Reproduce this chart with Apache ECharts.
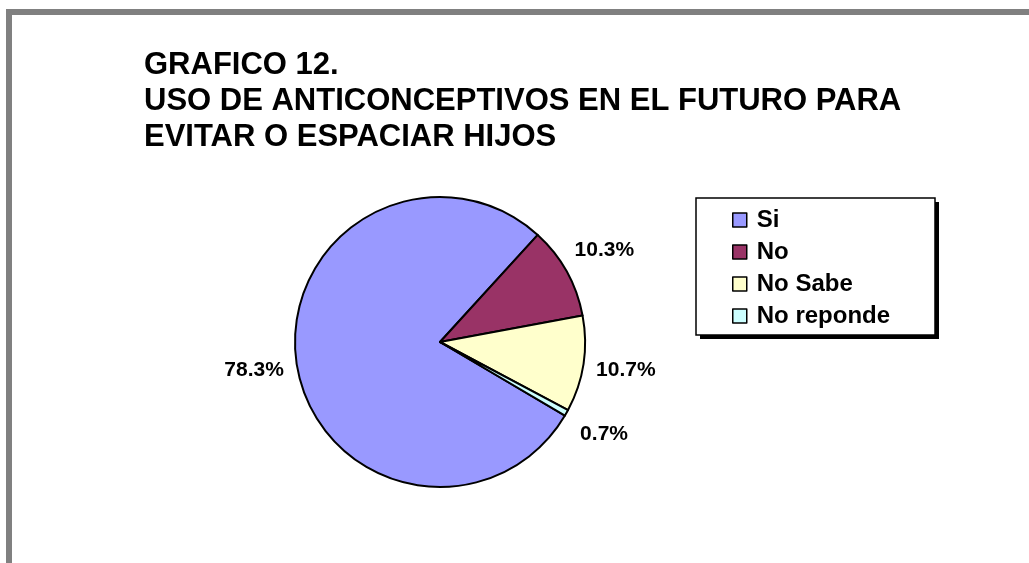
<!DOCTYPE html>
<html>
<head>
<meta charset="utf-8">
<script src="https://cdn.jsdelivr.net/npm/echarts@6/dist/echarts.min.js"></script>
<style>
  html, body { margin: 0; padding: 0; background: #fff; }
  #chart { width: 1029px; height: 563px; }
</style>
</head>
<body>
<div id="chart"></div>
<script>
// Survey answers, percent of respondents
const categories = ['Si', 'No', 'No Sabe', 'No reponde'];
const percents = [78.3, 10.3, 10.7, 0.7];
const sliceColors = ['#9999FF', '#993366', '#FFFFCC', '#CCFFFF'];
const titleLines = ['GRAFICO 12.', 'USO DE ANTICONCEPTIVOS EN EL FUTURO PARA', 'EVITAR O ESPACIAR HIJOS'];

const FONT = '"Liberation Sans", Arial, Helvetica, sans-serif';

const pieData = categories.map((name, i) => ({
  name: name,
  value: percents[i],
  itemStyle: { color: sliceColors[i] }
}));

const chart = echarts.init(document.getElementById('chart'), null, { renderer: 'canvas' });

chart.setOption({
  animation: false,
  backgroundColor: '#ffffff',
  title: {
    text: titleLines.join('\n'),
    left: 144,
    top: 47,
    padding: 0,
    textStyle: {
      fontFamily: FONT,
      fontWeight: 'bold',
      fontSize: 31,
      lineHeight: 36,
      color: '#000'
    }
  },
  legend: {
    data: categories,
    orient: 'vertical',
    left: 732,
    top: 208,
    padding: 0,
    itemGap: 8,
    itemWidth: 14,
    itemHeight: 14,
    icon: 'rect',
    selectedMode: false,
    itemStyle: { borderColor: '#000', borderWidth: 1.5 },
    textStyle: {
      fontFamily: FONT,
      fontWeight: 'bold',
      fontSize: 24,
      lineHeight: 22,
      color: '#000',
      padding: [0, 0, 0, 5]
    },
    z: 5
  },
  graphic: [
    // frame around the chart area
    {
      type: 'rect',
      shape: { x: 9, y: 12, width: 1100, height: 600 },
      style: { fill: 'none', stroke: '#808080', lineWidth: 6 },
      silent: true,
      z: 0
    },
    // legend box drop shadow
    {
      type: 'rect',
      shape: { x: 700, y: 202, width: 239, height: 137 },
      style: { fill: '#000' },
      silent: true,
      z: 1
    },
    // legend box
    {
      type: 'rect',
      shape: { x: 696, y: 198, width: 239, height: 137 },
      style: { fill: '#ffffff', stroke: '#000', lineWidth: 1.5 },
      silent: true,
      z: 2
    }
  ],
  series: [
    {
      type: 'pie',
      center: [440, 342],
      radius: [0, 145],
      startAngle: -30.5,
      clockwise: true,
      silent: true,
      label: { show: false },
      labelLine: { show: false },
      itemStyle: { borderColor: '#000', borderWidth: 2 },
      emphasis: { disabled: true },
      data: pieData
    },
    {
      // invisible ring used only to place the percentage labels around the pie
      type: 'pie',
      center: [440, 342],
      radius: [0, 370],
      startAngle: -30.5,
      clockwise: true,
      silent: true,
      z: 3,
      itemStyle: { color: 'rgba(0,0,0,0)', borderWidth: 0 },
      labelLine: { show: false },
      emphasis: { disabled: true },
      label: {
        show: true,
        position: 'inside',
        formatter: p => p.value.toFixed(1) + '%',
        fontFamily: FONT,
        fontWeight: 'bold',
        fontSize: 21,
        color: '#000'
      },
      data: categories.map((name, i) => ({ name: name, value: percents[i] }))
    }
  ]
});
</script>
</body>
</html>
